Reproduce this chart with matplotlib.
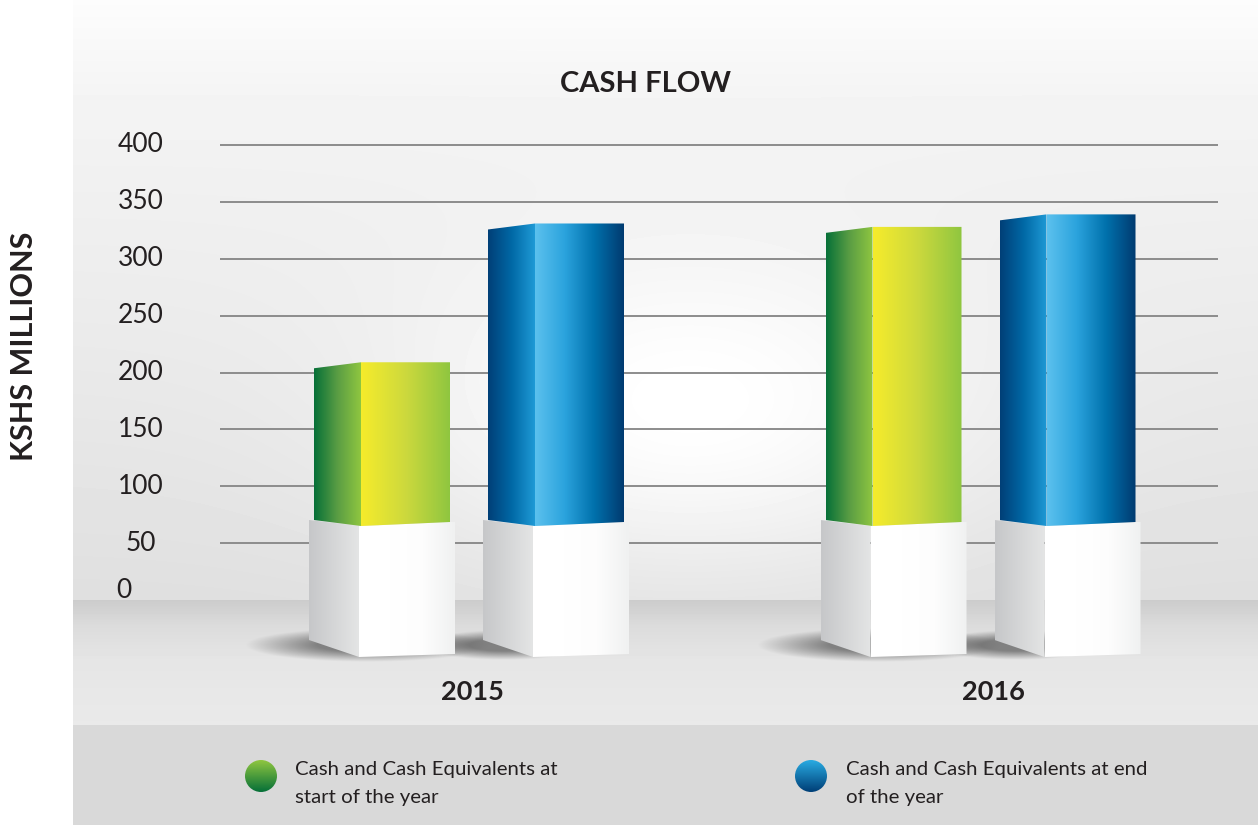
import numpy as np
import matplotlib
matplotlib.use('Agg')
import matplotlib.pyplot as plt
from matplotlib.colors import LinearSegmentedColormap
from matplotlib.patches import Ellipse, Polygon

plt.rcParams['font.family'] = ['Lato', 'DejaVu Sans']

# donnees
years = ['2015', '2016']
start_of_year = [209, 328]
end_of_year = [331, 339]
y_ticks = [0, 50, 100, 150, 200, 250, 300, 350, 400]
legend_labels = [['Cash and Cash Equivalents at', 'start of the year'],
                 ['Cash and Cash Equivalents at end', 'of the year']]

W, H = 1258, 825
PX = 455 / 400  # pixels par unite
Y_TOP = 600 / PX
Y_BOTTOM = -(H - 600) / PX

dark = '#231f20'
green_side = ['#067038', '#5a9d44', '#8fc640']
green_front = ['#f6ec2b', '#cdd93d', '#8fc640']
blue_side = ['#003f77', '#0068a5', '#1f9ad6']
blue_front = ['#5cc1ee', '#2ba3dd', '#0071ac', '#003a70']
base_side = ['#c6c7c9', '#e4e5e5']
base_front = ['#ffffff', '#ffffff', '#fdfdfd', '#f0f1f1']


def to_y(p):
    return (600 - p) / PX


fig = plt.figure(figsize=(W / 100, H / 100), dpi=100)
ax = fig.add_axes([0, 0, 1, 1])
ax.set_xlim(0, W)
ax.set_ylim(Y_BOTTOM, Y_TOP)
ax.axis('off')

# fond : degrade vertical + halo blanc au centre
yy, xx = np.mgrid[0:H, 0:W - 73]
wall = np.interp(yy, [0, 100, 300, 600], [0.99, 0.955, 0.925, 0.875])
glow = np.exp(-(((xx + 73 - 690) / 280.0) ** 2 + ((yy - 400) / 160.0) ** 2))
wall = wall + (1 - wall) * glow
floor = np.interp(yy, [600, 625, 660, 725], [0.80, 0.86, 0.90, 0.915])
bg = np.where(yy < 600, wall, floor)
bg[yy >= 725] = 0.85
ax.imshow(bg, cmap='gray', vmin=0, vmax=1, extent=[73, W, Y_BOTTOM, Y_TOP],
          aspect='auto', zorder=0, interpolation='bilinear')

# lignes de la grille
ax.hlines([t for t in y_ticks if t > 0], 220, 1218, color='#8c8c8c', lw=1.4, zorder=1)


def gradient_poly(points, colors, zorder):
    pts = np.array(points, dtype=float)
    cmap = LinearSegmentedColormap.from_list('g', colors)
    im = ax.imshow(np.linspace(0, 1, 256)[None, :], cmap=cmap, aspect='auto',
                   extent=[pts[:, 0].min(), pts[:, 0].max(), pts[:, 1].min(), pts[:, 1].max()],
                   zorder=zorder, interpolation='bilinear')
    im.set_clip_path(Polygon(pts, closed=True, transform=ax.transData))


def shadow(cx, cy, rx, ry, zorder=2):
    gy, gx = np.mgrid[-1:1:80j, -1:1:200j]
    a = np.clip(1 - np.sqrt(gx ** 2 + gy ** 2), 0, 1) * 1.1
    img = np.zeros((80, 200, 4))
    img[..., :3] = 0.3
    img[..., 3] = np.clip(a, 0, 0.65)
    ax.imshow(img, extent=[cx - rx, cx + rx, to_y(cy + ry), to_y(cy - ry)],
              aspect='auto', zorder=zorder, interpolation='bilinear')


def bar3d(edge, value, side_cols, front_cols):
    # colonne : face laterale + face avant a partir de la valeur
    left, right = edge - 47, edge + 89
    base_l, base_e, base_r = edge - 52, edge - 2, edge + 94
    lean = 6 / PX
    gradient_poly([(left, value - lean), (edge, value), (edge, to_y(526)), (left, to_y(520))],
                  side_cols, 4)
    gradient_poly([(edge, value), (right, value), (right, to_y(522)), (edge, to_y(526))],
                  front_cols, 4)
    # socle blanc
    gradient_poly([(base_l, to_y(520)), (base_e, to_y(526)), (base_e, to_y(657)), (base_l, to_y(640))],
                  base_side, 3)
    gradient_poly([(base_e, to_y(526)), (edge, to_y(526)), (right, to_y(522)), (base_r, to_y(522)),
                   (base_r, to_y(654)), (base_e, to_y(657))],
                  base_front, 3)


bar_centers = [472, 983.5]
label_centers = [472, 993.5]
for c, start, end in zip(bar_centers, start_of_year, end_of_year):
    shadow(c - 105, 645, 122, 17)
    shadow(c + 32, 645, 85, 15)
    bar3d(c - 111, start, green_side, green_front)
    bar3d(c + 63, end, blue_side, blue_front)

# textes
for t in y_ticks:
    if t == 0:
        ax.text(124, to_y(591), str(t), ha='center', va='center', fontsize=19, color=dark, zorder=6)
    else:
        ax.text(141, t, str(t), ha='center', va='center', fontsize=19, color=dark, zorder=6)

for c, yr in zip(label_centers, years):
    ax.text(c, to_y(692), yr, ha='center', va='center', fontsize=19.5, fontweight='bold',
            color=dark, zorder=6)

ax.text(645, to_y(83.5), 'CASH FLOW', ha='center', va='center', fontsize=21, fontweight='bold',
        color=dark, zorder=6)
ax.text(24, to_y(346), 'KSHS MILLIONS', rotation=90, ha='center', va='center', fontsize=22,
        fontweight='bold', color=dark, zorder=6)

# legende
for cx, cols, lines, tx in zip([261, 811], [['#8fc640', '#067038'], ['#29abe2', '#003f77']],
                               legend_labels, [295, 846]):
    cmap = LinearSegmentedColormap.from_list('l', cols)
    im = ax.imshow(np.linspace(0, 1, 64)[:, None], cmap=cmap, aspect='auto',
                   extent=[cx - 16, cx + 16, to_y(792), to_y(760)], zorder=5,
                   interpolation='bilinear')
    im.set_clip_path(Ellipse((cx, to_y(776)), 32, 32 / PX, transform=ax.transData))
    for line, py in zip(lines, [770, 797]):
        ax.text(tx, to_y(py), line, ha='left', va='center', fontsize=14.7, color=dark, zorder=6)

ax.set_xlim(0, W)
ax.set_ylim(Y_BOTTOM, Y_TOP)
fig.savefig('out.png', dpi=100, facecolor='white')
